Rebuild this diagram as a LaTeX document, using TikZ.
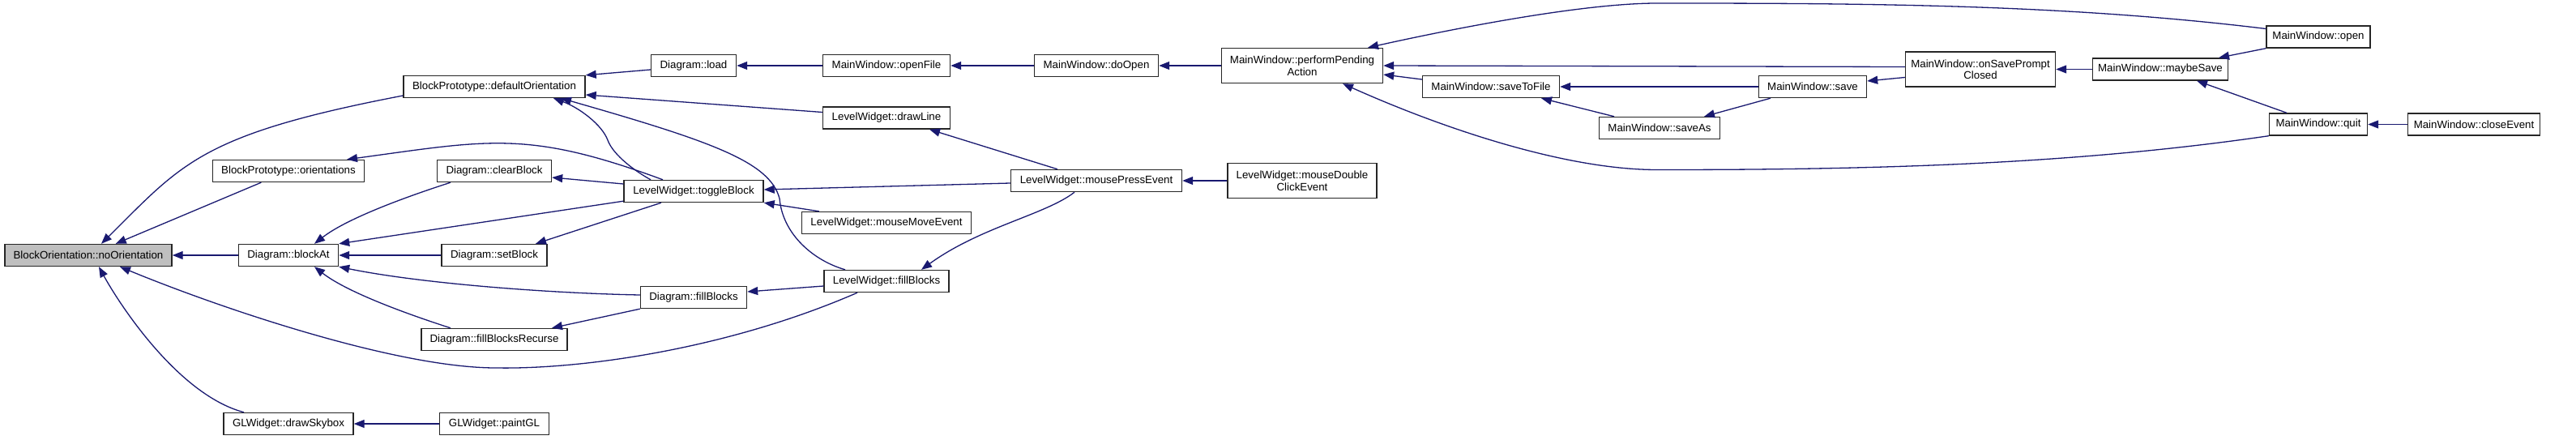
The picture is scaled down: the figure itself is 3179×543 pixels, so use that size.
\documentclass[tikz,border=0pt]{standalone}
\usepackage{fontspec}
\setmainfont{Liberation Sans}
\usepackage{tikz}
\usetikzlibrary{arrows.meta,positioning}
\definecolor{edgeblue}{RGB}{25,25,112}
\definecolor{boxgray}{RGB}{191,191,191}

\begin{document}
\begin{tikzpicture}[x=1pt, y=-1pt,
  fn/.style={rectangle, draw=black!85, line width=1.4pt, fill=white, minimum height=27pt, inner sep=0pt, font=\fontsize{13.3}{14.5}\selectfont},
  fn2/.style={fn, minimum height=43pt, align=center},
  call/.style={->, >={Triangle[length=13pt,width=10pt]}, line width=1.3pt, edgeblue}]
\useasboundingbox (0,0) rectangle (3179,543);

\node (noorient) [fn, fill=boxgray, minimum width=206pt] at (109,315) {BlockOrientation::noOrientation};
\node (blockat) [fn, minimum width=123pt, right of=noorient, node distance=247pt] {Diagram::blockAt};
\node (setblock) [fn, minimum width=130pt, right of=blockat, node distance=254pt] {Diagram::setBlock};
\node (orient) [fn, minimum width=187pt, above of=blockat, node distance=104pt] {BlockPrototype::orientations};
\node (clearblock) [fn, minimum width=141pt, right of=orient, node distance=254pt] {Diagram::clearBlock};
\node (defaultor) [fn, minimum width=224pt, above of=clearblock, node distance=104pt] {BlockPrototype::defaultOrientation};
\node (recurse) [fn, minimum width=180pt, below of=setblock, node distance=104pt] {Diagram::fillBlocksRecurse};
\node (skybox) [fn, minimum width=160pt, below of=blockat, node distance=208pt] {GLWidget::drawSkybox};
\node (paintgl) [fn, minimum width=135pt, right of=skybox, node distance=254pt] {GLWidget::paintGL};

\node (load) [fn, minimum width=105pt] at (856,81) {Diagram::load};
\node (toggle) [fn, minimum width=172pt, below of=load, node distance=155pt] {LevelWidget::toggleBlock};
\node (dfill) [fn, minimum width=131pt, below of=toggle, node distance=131pt] {Diagram::fillBlocks};
\node (openfile) [fn, minimum width=157pt, right of=load, node distance=238pt] {MainWindow::openFile};
\node (drawline) [fn, minimum width=157pt, below of=openfile, node distance=64.5pt] {LevelWidget::drawLine};
\node (move) [fn, minimum width=209pt, below of=drawline, node distance=129.5pt] {LevelWidget::mouseMoveEvent};
\node (lwfill) [fn, minimum width=154pt, below of=move, node distance=72pt] {LevelWidget::fillBlocks};
\node (doopen) [fn, minimum width=153pt, right of=openfile, node distance=259pt] {MainWindow::doOpen};
\node (press) [fn, minimum width=211pt, below of=doopen, node distance=142pt] {LevelWidget::mousePressEvent};
\node (pending) [fn2, minimum width=199pt, right of=doopen, node distance=254pt] {MainWindow::performPending\\Action};
\node (dblclick) [fn2, minimum width=184pt, below of=pending, node distance=142pt] {LevelWidget::mouseDouble\\ClickEvent};

\node (savetofile) [fn, minimum width=169pt] at (1840,107) {MainWindow::saveToFile};
\node (save) [fn, minimum width=133pt, right of=savetofile, node distance=397pt] {MainWindow::save};
\node (saveas) [fn, minimum width=149pt] at (2048,158) {MainWindow::saveAs};
\node (onsave) [fn2, minimum width=185pt] at (2444,85.5) {MainWindow::onSavePrompt\\Closed};
\node (maybesave) [fn, minimum width=167pt, right of=onsave, node distance=222pt] {MainWindow::maybeSave};
\node (open) [fn, minimum width=128pt] at (2861,45.5) {MainWindow::open};
\node (quit) [fn, minimum width=121pt, below of=open, node distance=108pt] {MainWindow::quit};
\node (closeevent) [fn, minimum width=163pt, right of=quit, node distance=192pt] {MainWindow::closeEvent};

\draw [call] (blockat) -- (noorient);
\draw [call] (orient) -- (noorient);
\draw [call] ([yshift=-11pt]defaultor.west) .. controls (247,166) and (225,202) .. ([xshift=16pt]noorient.north);
\draw [call] ([xshift=-36pt]lwfill.south) .. controls (900,430) and (720,456) .. (612,454) .. controls (489,454) and (271,380) .. ([xshift=39pt]noorient.south);
\draw [call] ([xshift=-55pt]skybox.north) .. controls (219,487) and (146,373) .. ([xshift=13pt]noorient.south);
\draw [call] (paintgl) -- (skybox);
\draw [call] ([xshift=-54pt]clearblock.south) .. controls (510,240) and (430,268) .. ([xshift=32pt]blockat.north);
\draw [call] ([yshift=2pt]toggle.south west) -- (blockat.north east);
\draw [call] (setblock) -- (blockat);
\draw [call] ([yshift=3pt]dfill.west) .. controls (680,362) and (520,350) .. (blockat.south east);
\draw [call] ([xshift=-54pt]recurse.north) .. controls (510,390) and (430,362) .. ([xshift=32pt]blockat.south);
\draw [call] ([xshift=-38pt]toggle.north) .. controls (651,160) and (603,173) .. ([xshift=72pt]orient.north);
\draw [call] ([xshift=-53pt]toggle.north) .. controls (785,212) and (757,192) .. (750,173) .. controls (743,154) and (715,133) .. ([xshift=73pt]defaultor.south);
\draw [call] ([xshift=-51pt]lwfill.north) .. controls (1005,322) and (966,290) .. (962,245) .. controls (950,200) and (880,175) .. ([xshift=82pt]defaultor.south);
\draw [call] ([yshift=-5pt]load.west) -- (defaultor.north east);
\draw [call] ([yshift=7pt]drawline.west) -- ([yshift=-10pt]defaultor.east);
\draw [call] ([yshift=9pt]toggle.west) -- ([yshift=-8pt]clearblock.east);
\draw [call] ([xshift=-40pt]toggle.south) -- ([xshift=51pt]setblock.north);
\draw [call] (dfill.south west) -- ([xshift=71pt]recurse.north);
\draw [call] ([yshift=-6pt]lwfill.west) -- ([yshift=7pt]dfill.east);
\draw [call] ([xshift=-27pt]press.south) .. controls (1290,265) and (1210,280) .. ([xshift=43pt]lwfill.north);
\draw [call] ([xshift=-48pt]press.north) -- ([xshift=53pt]drawline.south);
\draw [call] ([yshift=-3pt]press.west) -- ([yshift=2pt]toggle.east);
\draw [call] ([xshift=22pt]move.north west) -- (toggle.south east);
\draw [call] (dblclick) -- (press);
\draw [call] (openfile) -- (load);
\draw [call] (doopen) -- (openfile);
\draw [call] (pending) -- (doopen);
\draw [call] ([yshift=9pt]savetofile.west) -- ([yshift=-11pt]pending.east);
\draw [call] ([yshift=3pt]onsave.west) -- (pending.east);
\draw [call] ([yshift=10pt]open.west) .. controls (2547,5) and (2300,4) .. (2045,4) .. controls (1950,4) and (1786,37) .. ([xshift=81pt]pending.north);
\draw [call] (quit.south west) .. controls (2551,204) and (2300,209.5) .. (2045,209.5) .. controls (1930,209.5) and (1777,157) .. ([xshift=50pt]pending.south);
\draw [call] (save) -- (savetofile);
\draw [call] ([xshift=-56pt]saveas.north) -- ([xshift=62pt]savetofile.south);
\draw [call] ([xshift=-52pt]save.south) -- ([xshift=55pt]saveas.north);
\draw [call] ([yshift=-10pt]onsave.west) -- ([yshift=7pt]save.east);
\draw [call] (maybesave) -- (onsave);
\draw [call] (open.south west) -- ([xshift=72pt]maybesave.north);
\draw [call] ([xshift=-39pt]quit.north) -- ([xshift=45pt]maybesave.south);
\draw [call] (closeevent) -- (quit);
\end{tikzpicture}
\end{document}
